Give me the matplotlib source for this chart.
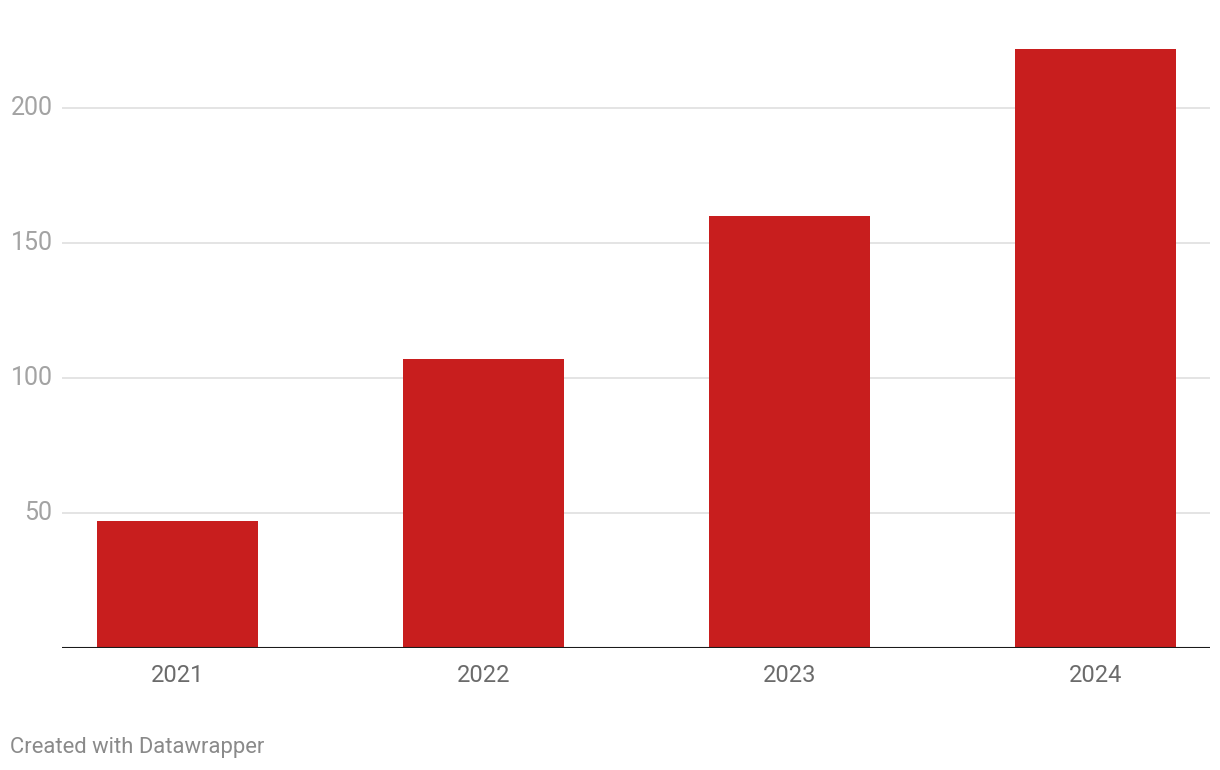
import matplotlib
matplotlib.use("Agg")
import matplotlib.pyplot as plt

# data
years = ["2021", "2022", "2023", "2024"]
values = [47, 107, 160, 222]
y_ticks = [50, 100, 150, 200]

plt.rcParams["font.family"] = ["Roboto", "DejaVu Sans"]

fig = plt.figure(figsize=(12.2, 7.7), dpi=100)
ax = fig.add_axes([62 / 1220, 1 - 648 / 770, (1210 - 62) / 1220, (648 - 40) / 770])

x = range(len(years))
ax.bar(x, values, width=0.526, color="#c81e1e", zorder=2)

ax.set_xlim(-0.377, 3.374)
ax.set_ylim(0, (648 - 40) / 2.7)

# gridlines
for t in y_ticks:
    ax.axhline(t, color="#e2e2e2", lw=1.3, zorder=1)
ax.axhline(0, color="#1a1a1a", lw=1.5, zorder=3)

for s in ax.spines.values():
    s.set_visible(False)
ax.set_yticks([])
ax.set_xticks(list(x))
ax.set_xticklabels(years, fontsize=17, color="#6b6b6b")
ax.tick_params(axis="x", length=0, pad=11.5)

# y labels right-aligned left of plot
for t in y_ticks:
    ax.text(-0.408, t, str(t), ha="right", va="center", fontsize=18,
            color="#a3a3a3", transform=ax.transData)

fig.text(10 / 1220, 1 - 748 / 770, "Created with Datawrapper", ha="left", va="center",
         fontsize=15.8, color="#8a8a8a")

fig.savefig("out.png", dpi=100)
